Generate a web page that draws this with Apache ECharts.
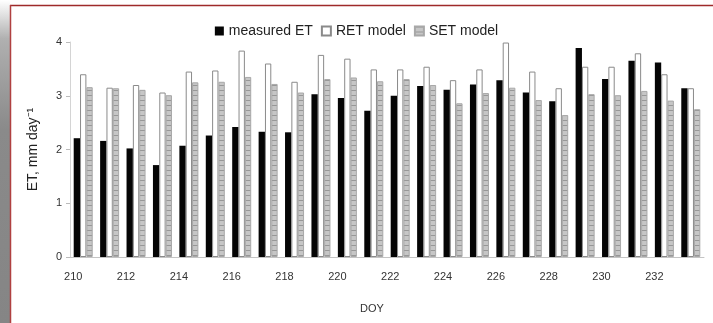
<!DOCTYPE html>
<html>
<head>
<meta charset="utf-8">
<script src="https://cdn.jsdelivr.net/npm/echarts@6/dist/echarts.min.js"></script>
<style>
  html, body { margin: 0; padding: 0; background: #fff; }
  #chart { width: 713px; height: 323px; }
</style>
</head>
<body>
<div id="chart"></div>
<script>
// day of year
const days = ['210','211','212','213','214','215','216','217','218','219','220','221',
  '222','223','224','225','226','227','228','229','230','231','232','233'];

const measuredET = [2.21, 2.16, 2.02, 1.71, 2.07, 2.26, 2.42, 2.33, 2.32, 3.03, 2.96, 2.72,
  3.00, 3.18, 3.11, 3.21, 3.29, 3.06, 2.90, 3.89, 3.31, 3.65, 3.62, 3.14];
const retModel = [3.40, 3.15, 3.20, 3.06, 3.45, 3.47, 3.84, 3.60, 3.26, 3.76, 3.69, 3.49,
  3.49, 3.54, 3.29, 3.49, 3.99, 3.45, 3.14, 3.54, 3.54, 3.79, 3.40, 3.14];
const setModel = [3.16, 3.14, 3.11, 3.01, 3.25, 3.26, 3.35, 3.22, 3.06, 3.31, 3.34, 3.27,
  3.31, 3.20, 2.86, 3.05, 3.15, 2.92, 2.64, 3.03, 3.01, 3.09, 2.91, 2.75];

const yTicks = [0, 1, 2, 3, 4];

// hatched fill for the SET bars
const pat = document.createElement('canvas');
pat.width = 4;
pat.height = 5;
const pctx = pat.getContext('2d');
pctx.fillStyle = '#c6c6c6';
pctx.fillRect(0, 0, 4, 5);
pctx.fillStyle = '#979797';
pctx.fillRect(0, 0, 4, 1);

const chart = echarts.init(document.getElementById('chart'), null, { renderer: 'canvas' });

const font = '"Liberation Sans", Arial, sans-serif';

chart.setOption({
  animation: false,
  backgroundColor: '#fff',
  textStyle: { fontFamily: font },
  legend: {
    top: 19,
    left: 'center',
    icon: 'rect',
    itemWidth: 9,
    itemHeight: 9,
    itemGap: 8,
    textStyle: { fontSize: 14, color: '#222', fontFamily: font },
    data: ['measured ET', 'RET model', 'SET model']
  },
  grid: { left: 70, right: 9, top: 42, bottom: 66 },
  xAxis: {
    type: 'category',
    data: days,
    name: 'DOY',
    nameLocation: 'middle',
    nameGap: 46,
    nameTextStyle: { fontSize: 11, color: '#333', padding: [0, 30, 0, 0] },
    axisLine: { lineStyle: { color: '#c4c4c4' } },
    axisTick: { show: false },
    axisLabel: {
      interval: 1,
      fontSize: 11,
      color: '#333',
      margin: 14,
      padding: [0, 20, 0, 0]
    }
  },
  yAxis: {
    type: 'value',
    min: yTicks[0],
    max: yTicks[yTicks.length - 1],
    interval: 1,
    name: 'ET, mm day\u207B\u00B9',
    nameLocation: 'middle',
    nameGap: 30,
    nameTextStyle: { fontSize: 14, color: '#222' },
    axisLine: { show: true, lineStyle: { color: '#d4d4d4' } },
    axisTick: { show: true, length: 4, lineStyle: { color: '#bbb' } },
    axisLabel: { fontSize: 11, color: '#333', margin: 8 },
    splitLine: { show: false }
  },
  series: [
    {
      name: 'measured ET',
      type: 'bar',
      data: measuredET,
      barGap: '0%',
      barCategoryGap: '28%',
      itemStyle: { color: '#050505' }
    },
    {
      name: 'RET model',
      type: 'bar',
      data: retModel,
      itemStyle: { color: '#fff', borderColor: '#8a8a8a', borderWidth: 1 }
    },
    {
      name: 'SET model',
      type: 'bar',
      data: setModel,
      itemStyle: { color: { image: pat, repeat: 'repeat' }, borderColor: '#a8a8a8', borderWidth: 1 }
    }
  ],
  graphic: [
    {
      type: 'rect',
      silent: true,
      shape: { x: 0, y: 0, width: 10, height: 323 },
      style: {
        fill: new echarts.graphic.LinearGradient(0, 0, 0, 1, [
          { offset: 0, color: '#ffffff' },
          { offset: 0.12, color: '#b0b0b0' },
          { offset: 0.4, color: '#8a8a8a' },
          { offset: 1, color: '#858585' }
        ])
      }
    },
    {
      type: 'line',
      silent: true,
      shape: { x1: 10, y1: 5.5, x2: 713, y2: 5.5 },
      style: { stroke: '#9e2a2a', lineWidth: 1.5 }
    },
    {
      type: 'line',
      silent: true,
      shape: { x1: 10.5, y1: 5, x2: 10.5, y2: 323 },
      style: { stroke: '#b04040', lineWidth: 1.5 }
    }
  ]
});
</script>
</body>
</html>
